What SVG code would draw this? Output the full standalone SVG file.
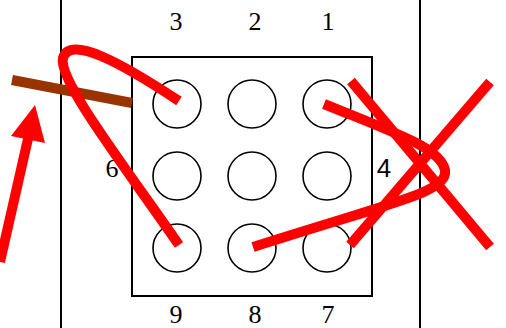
<svg xmlns="http://www.w3.org/2000/svg" width="506" height="328" viewBox="0 0 506 328">
<style>
.ln{stroke:#000;stroke-width:2;fill:none}
.c{stroke:#000;stroke-width:1.6;fill:#fff}
.t{font-family:"Liberation Serif",serif;font-size:26px;text-anchor:middle;fill:#000}
.r{stroke:#f00;stroke-width:10;fill:none}
</style>
<g id="frame">
<line class="ln" x1="61" y1="0" x2="61" y2="328"/>
<line class="ln" x1="420" y1="0" x2="420" y2="328"/>
<rect class="ln" x="132" y="57" width="240" height="239"/>
</g>
<g id="holes">
<circle class="c" cx="177" cy="104" r="24"/>
<circle class="c" cx="252" cy="104" r="24"/>
<circle class="c" cx="327" cy="104" r="24"/>
<circle class="c" cx="177" cy="176" r="24"/>
<circle class="c" cx="252" cy="176" r="24"/>
<circle class="c" cx="327" cy="176" r="24"/>
<circle class="c" cx="177" cy="248" r="24"/>
<circle class="c" cx="252" cy="248" r="24"/>
<circle class="c" cx="327" cy="248" r="24"/>
</g>
<g id="labels">
<text class="t" x="176" y="30">3</text>
<text class="t" x="255" y="30">2</text>
<text class="t" x="328" y="30">1</text>
<text class="t" x="112" y="177">6</text>
<text class="t" x="384" y="177" style="font-family:'Liberation Sans',sans-serif;font-size:26px">4</text>
<text class="t" x="176" y="323">9</text>
<text class="t" x="255" y="323">8</text>
<text class="t" x="328" y="323">7</text>
</g>
<g id="connectors">
<line x1="12" y1="80" x2="132" y2="103" stroke="#993300" stroke-width="10"/>
<line class="r" x1="0" y1="262" x2="30" y2="130"/>
<polygon points="35,105 11,136 45,143" fill="#f00"/>
<path class="r" d="M179,101 C120,62 70,35 63,58 C58,80 120,160 179,245"/>
<path class="r" d="M324,104 C400,135 440,148 445,170 C448,192 400,200 253,247"/>
<line class="r" x1="351" y1="81" x2="490" y2="247"/>
<line class="r" x1="490" y1="82" x2="350" y2="245"/>
</g>
</svg>
